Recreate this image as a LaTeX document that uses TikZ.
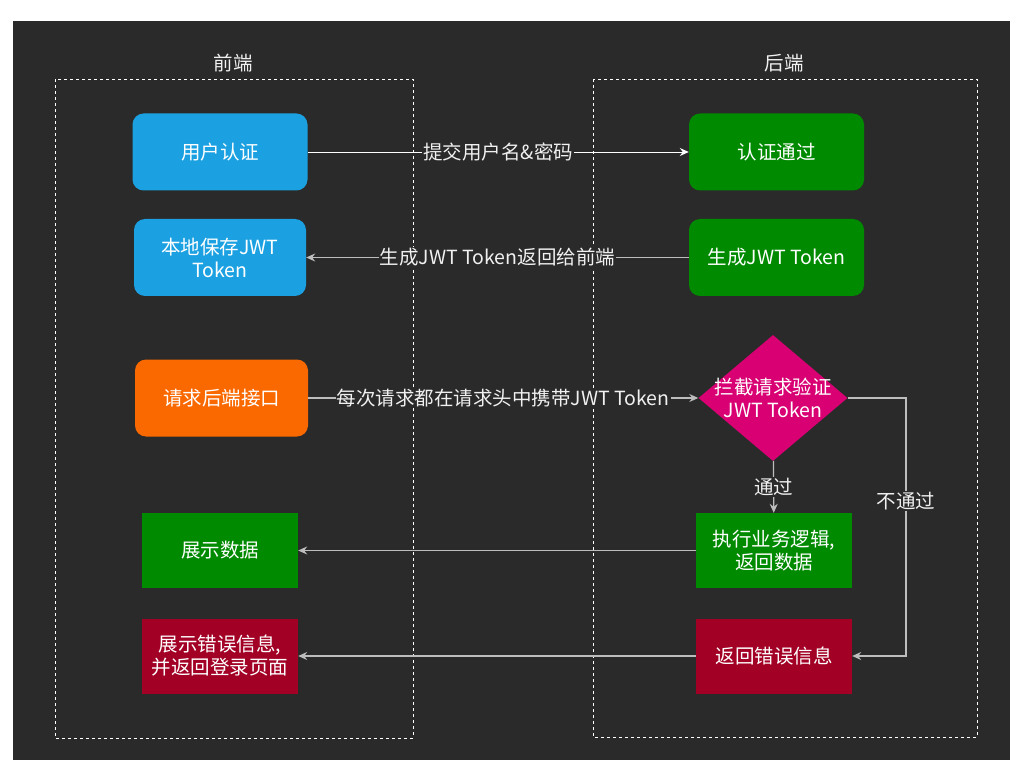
\documentclass[tikz,border=0pt]{standalone}
\usepackage{fontspec}
\setmainfont{Noto Sans CJK SC}
\usetikzlibrary{shapes.geometric,arrows.meta}
\definecolor{bgdark}{HTML}{2A2A2A}
\definecolor{lineclr}{HTML}{BDBDBD}
\definecolor{labelclr}{HTML}{F0F0F0}
\definecolor{blueclr}{HTML}{1BA1E2}
\definecolor{greenclr}{HTML}{008A00}
\definecolor{orangeclr}{HTML}{FA6800}
\definecolor{redclr}{HTML}{A20025}
\definecolor{pinkclr}{HTML}{D80073}

\begin{document}
\begin{tikzpicture}[x=1pt, y=-1pt, font=\fontsize{19.5}{23}\selectfont]
\tikzset{box/.style={minimum width=156pt, minimum height=75pt, text=white, align=center, inner sep=2pt}}
\tikzset{roundbox/.style={box, minimum width=175pt, minimum height=77pt, rounded corners=11pt}}
\tikzset{flow/.style={draw=lineclr, line width=1.2pt, -{Stealth[length=9pt, width=8pt, inset=3pt]}}}
\tikzset{flowlabel/.style={fill=bgdark, text=labelclr, inner sep=1pt}}
\tikzset{lane/.style={draw=white, dashed, line width=0.8pt}}
\fill[white] (0,0) rectangle (1026,770);
\fill[bgdark] (13,21) rectangle (1010,760);
% front end and back end lanes
\draw[lane] (55,79) rectangle (413,738);
\draw[lane] (593,79) rectangle (977,737);
\node[text=labelclr] (feTitle) at (233,63) {前端};
\node[text=labelclr] (beTitle) at (784,63) {后端};
% front end
\node[roundbox, fill=blueclr] (login) at (220,152) {用户认证};
\node[roundbox, fill=blueclr, minimum width=172pt] (saveTok) at (220,257.5) {本地保存JWT\\Token};
\node[roundbox, fill=orangeclr, minimum width=173pt] (request) at (221.5,398) {请求后端接口};
\node[box, fill=greenclr] (showData) at (220,550.5) {展示数据};
\node[box, fill=redclr] (showErr) at (220,656) {展示错误信息,\\并返回登录页面};
% back end
\node[roundbox, fill=greenclr] (authOk) at (776.5,152) {认证通过};
\node[roundbox, fill=greenclr] (genTok) at (776.5,257.5) {生成JWT Token};
\node[diamond, fill=pinkclr, text=white, align=center, inner sep=-12pt, aspect=1.18,
  minimum width=149pt, minimum height=126pt] (check) at (773,398) {拦截请求验证\\JWT Token};
\node[box, fill=greenclr] (logic) at (774,550.5) {执行业务逻辑,\\返回数据};
\node[box, fill=redclr] (retErr) at (774,656) {返回错误信息};
\coordinate (turnTop) at (906,398);
\coordinate (turnBot) at (906,656);
% connectors
\draw[flow, draw=white, line width=0.9pt] (login) -- node[flowlabel] {提交用户名\&密码} (authOk);
\draw[flow] (genTok) -- node[flowlabel] {生成JWT Token返回给前端} (saveTok);
\draw[flow] (request) -- node[flowlabel] {每次请求都在请求头中携带JWT Token} (check);
\draw[flow] (check) -- node[flowlabel] {通过} (logic);
\draw[flow] (check.east) -- (turnTop) -- node[flowlabel, pos=0.4] {不通过} (turnBot) -- (retErr.east);
\draw[flow] (logic) -- (showData);
\draw[flow] (retErr) -- (showErr);
\end{tikzpicture}
\end{document}
